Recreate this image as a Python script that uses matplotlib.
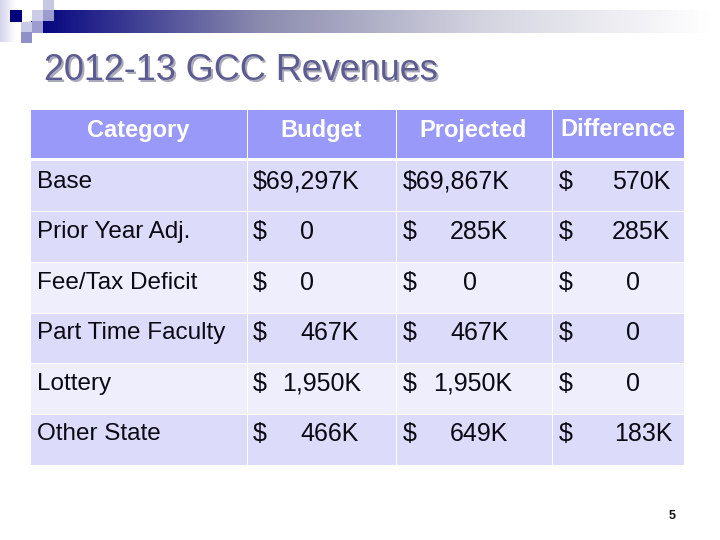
import numpy as np
import matplotlib
matplotlib.use('Agg')
import matplotlib.pyplot as plt
from matplotlib.colors import LinearSegmentedColormap
from matplotlib.patches import Rectangle

title = '2012-13 GCC Revenues'
headers = ['Category', 'Budget', 'Projected', 'Difference']
categories = ['Base', 'Prior Year Adj.', 'Fee/Tax Deficit', 'Part Time Faculty', 'Lottery', 'Other State']
budget = ['$69,297K', '0', '0', '467K', '1,950K', '466K']
projected = ['$69,867K', '285K', '0', '467K', '1,950K', '649K']
difference = ['570K', '285K', '0', '0', '0', '183K']

col_edges = [(31, 246.5), (247.5, 396), (397, 552), (553, 684)]
row_edges = [(161, 210.5), (211.5, 262), (263, 313), (314, 363), (364, 414), (415, 465)]
row_text_y = (182, 232, 283, 333, 384, 434)
budget_x = [None, 300, 300, 300, 282, 300]
projected_x = [None, 450, 463, 450, 433, 450]
difference_x = [612, 612, 626, 626, 626, 614]
row_colors = ['#dcdcfa', '#dcdcfa', '#eeeefd', '#dcdcfa', '#eeeefd', '#dcdcfa']

fig = plt.figure(figsize=(7.2, 5.4), dpi=100)
ax = fig.add_axes([0, 0, 1, 1])
ax.set_xlim(0, 720)
ax.set_ylim(540, 0)
ax.axis('off')
plt.rcParams['font.family'] = ['Liberation Sans', 'DejaVu Sans']

# gradient banner
banner = LinearSegmentedColormap.from_list('banner', ['#00007f', '#8a8aae', '#d4d4e0', '#ffffff'])
ax.imshow(np.linspace(0, 1, 256)[None, :], cmap=banner, extent=(31, 710, 33, 10), aspect='auto', zorder=1)
ax.set_xlim(0, 720)
ax.set_ylim(540, 0)

# corner squares
side = LinearSegmentedColormap.from_list('side', ['#d4d4ee', '#ffffff'])
ax.imshow(np.linspace(0, 1, 64)[None, :], cmap=side, extent=(0, 16, 42, 0), aspect='auto', zorder=1)
ax.set_xlim(0, 720)
ax.set_ylim(540, 0)
for (x, y, w, h, c) in [(43, 0, 11, 10, '#c8c8e0'),
                        (10, 10, 12, 12, '#00007f'), (22, 10, 10, 11, '#ffffff'),
                        (32, 10, 11, 11, '#ccccE6'), (43, 10, 11, 11, '#9c9cd0'),
                        (32, 21, 11, 12, '#9c9cd0'), (21, 22, 11, 10, '#c8c8e8'),
                        (21, 32, 11, 11, '#9090c8')]:
    ax.add_patch(Rectangle((x, y), w, h, fc=c, ec='none', zorder=2))

# title with shadow
ax.text(46, 73, title, fontsize=25.9, color='#a9a9b8', va='center', ha='left', zorder=3)
ax.text(44, 71, title, fontsize=25.9, color='#5c5c92', va='center', ha='left', zorder=4)

# header
for (x0, x1), head, cx in zip(col_edges, headers, [138, 321, 473, 618]):
    ax.add_patch(Rectangle((x0, 110), x1 - x0, 48, fc='#9999f9', ec='none'))
    ax.text(cx, 130, head, fontsize=17, fontweight='bold', color='white', ha='center', va='center')

# body
for i, (y0, y1) in enumerate(row_edges):
    for (x0, x1) in col_edges:
        ax.add_patch(Rectangle((x0, y0), x1 - x0, y1 - y0, fc=row_colors[i], ec='none'))
    ty = row_text_y[i]
    kw = dict(color='#0a0a14', va='center', ha='left')
    num = dict(fontsize=18, **kw)
    ax.text(37, ty, categories[i], fontsize=17.5, **kw)
    if i == 0:
        ax.text(253, ty, budget[i], **num)
        ax.text(403, ty, projected[i], **num)
    else:
        ax.text(253, ty, '$', **num)
        ax.text(budget_x[i], ty, budget[i], **num)
        ax.text(403, ty, '$', **num)
        ax.text(projected_x[i], ty, projected[i], **num)
    ax.text(559, ty, '$', **num)
    ax.text(difference_x[i], ty, difference[i], **num)

ax.text(672, 516, '5', fontsize=9, fontweight='bold', color='#111111', ha='center', va='center')

fig.savefig('out.png', dpi=100)
